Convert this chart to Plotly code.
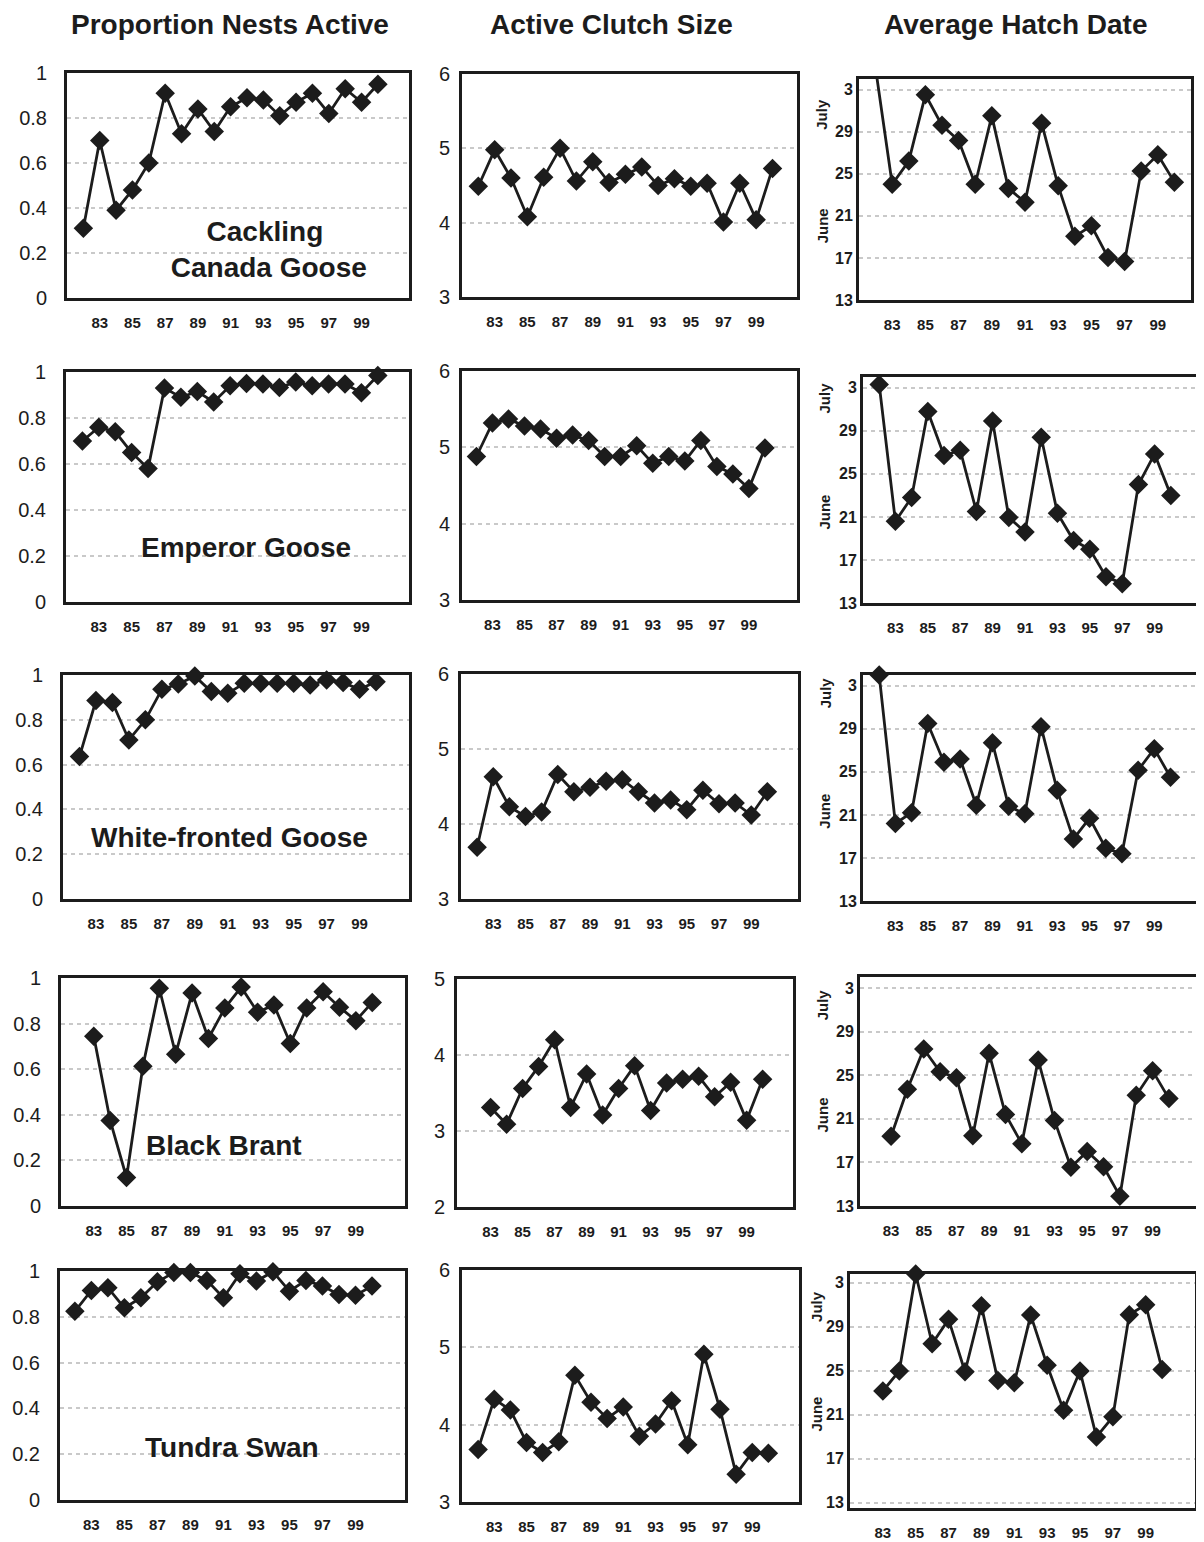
import plotly.graph_objects as go

PAGE_W, PAGE_H = 1204, 1542
BODY = 8  # default page margin around the plot div
W, H = PAGE_W - BODY, PAGE_H - BODY


def fx(px):
    return min(max((px - BODY) / W, 0), 1)


def fy(py):
    return min(max(1 - (py - BODY) / H, 0), 1)


years = list(range(1982, 2001))
tick_years = [1983, 1985, 1987, 1989, 1991, 1993, 1995, 1997, 1999]
tick_text = ["83", "85", "87", "89", "91", "93", "95", "97", "99"]

species = ["Cackling<br> Canada Goose", "Emperor Goose", "White-fronted Goose", "Black Brant", "Tundra Swan"]
headers = ["Proportion Nests Active", "Active Clutch Size", "Average Hatch Date"]

# Proportion of nests active, 1982-2000
prop_cackling = [0.31, 0.70, 0.39, 0.48, 0.60, 0.91, 0.73, 0.84, 0.74, 0.85, 0.89, 0.88, 0.81, 0.87, 0.91, 0.82, 0.93, 0.87, 0.95]
prop_emperor = [0.70, 0.76, 0.74, 0.65, 0.58, 0.93, 0.89, 0.915, 0.87, 0.94, 0.95, 0.948, 0.933, 0.956, 0.94, 0.948, 0.948, 0.91, 0.985]
prop_whitefront = [0.636, 0.886, 0.877, 0.71, 0.80, 0.936, 0.96, 0.995, 0.926, 0.918, 0.963, 0.963, 0.963, 0.963, 0.955, 0.978, 0.966, 0.936, 0.97]
prop_brant = [None, 0.745, 0.375, 0.125, 0.613, 0.955, 0.666, 0.934, 0.735, 0.868, 0.96, 0.85, 0.882, 0.713, 0.868, 0.94, 0.872, 0.813, 0.893]
prop_swan = [0.824, 0.915, 0.927, 0.839, 0.883, 0.953, 0.993, 0.993, 0.959, 0.883, 0.988, 0.956, 0.997, 0.912, 0.959, 0.934, 0.897, 0.894, 0.934]

# Active clutch size
clutch_cackling = [4.49, 4.98, 4.60, 4.08, 4.61, 5.0, 4.56, 4.82, 4.54, 4.65, 4.75, 4.50, 4.59, 4.49, 4.53, 4.01, 4.53, 4.04, 4.73]
clutch_emperor = [4.88, 5.32, 5.37, 5.28, 5.24, 5.12, 5.16, 5.09, 4.88, 4.88, 5.02, 4.79, 4.88, 4.82, 5.09, 4.75, 4.65, 4.46, 4.99]
clutch_whitefront = [3.69, 4.63, 4.23, 4.10, 4.16, 4.66, 4.43, 4.49, 4.57, 4.59, 4.43, 4.28, 4.32, 4.19, 4.45, 4.27, 4.28, 4.12, 4.43]
clutch_brant = [None, 3.31, 3.09, 3.56, 3.85, 4.20, 3.31, 3.75, 3.21, 3.56, 3.86, 3.27, 3.63, 3.68, 3.72, 3.45, 3.64, 3.14, 3.68]
clutch_swan = [3.68, 4.33, 4.19, 3.77, 3.64, 3.78, 4.64, 4.29, 4.08, 4.23, 3.85, 4.01, 4.31, 3.74, 4.91, 4.20, 3.36, 3.64, 3.63]

# Average hatch date (day of June; 33 = 3 July)
hatch_cackling = [35.0, 24.0, 26.2, 32.5, 29.6, 28.15, 24.0, 30.5, 23.6, 22.3, 29.8, 23.85, 19.05, 20.05, 17.05, 16.65, 25.25, 26.8, 24.2]
hatch_emperor = [33.3, 20.6, 22.8, 30.8, 26.7, 27.2, 21.5, 29.9, 20.95, 19.6, 28.4, 21.35, 18.8, 18.0, 15.45, 14.8, 24.0, 26.85, 23.0]
hatch_whitefront = [34.0, 20.2, 21.2, 29.5, 25.9, 26.2, 21.9, 27.7, 21.8, 21.1, 29.2, 23.3, 18.75, 20.7, 17.9, 17.4, 25.15, 27.15, 24.5]
hatch_brant = [None, 19.4, 23.7, 27.4, 25.3, 24.75, 19.45, 27.0, 21.4, 18.7, 26.4, 20.85, 16.55, 18.0, 16.6, 13.9, 23.15, 25.4, 22.85]
hatch_swan = [None, 23.15, 24.97, 33.8, 27.45, 29.67, 24.9, 30.9, 24.1, 23.9, 30.06, 25.5, 21.4, 24.97, 18.97, 20.8, 30.1, 31.0, 25.1]

hatch_tickvals = [13, 17, 21, 25, 29, 33]
hatch_ticktext = ["13", "17", "21", "25", "29", "3"]

prop_series = [prop_cackling, prop_emperor, prop_whitefront, prop_brant, prop_swan]
clutch_series = [clutch_cackling, clutch_emperor, clutch_whitefront, clutch_brant, clutch_swan]
hatch_series = [hatch_cackling, hatch_emperor, hatch_whitefront, hatch_brant, hatch_swan]

# layout geometry in page pixels: per row, per column -> (x0, x1, y_top, y_bottom, xrange)
geom = [
    [(67, 409, 73, 298, [1981, 2001.9]), (462, 797, 74, 297, [1981, 2001.5]), (859, 1191, 79, 300, [1981, 2001])],
    [(66, 409, 372, 602, [1981, 2001.9]), (462, 797, 371, 600, [1981.1, 2002]), (863, 1200, 377, 603, [1981, 2001.8])],
    [(63, 409, 675, 899, [1981, 2002]), (461, 798, 674, 899, [1981, 2001.9]), (863, 1198, 675, 901, [1981, 2001.7])],
    [(61, 405, 978, 1206, [1981, 2002]), (457, 793, 979, 1207, [1980.9, 2001.9]), (860, 1200, 977, 1206, [1981.1, 2001.9])],
    [(60, 405, 1271, 1500, [1981.1, 2002]), (462, 799, 1270, 1502, [1981, 2001.9]), (850, 1195, 1274, 1508, [1981, 2002])],
]
clutch_ranges = [[3, 6], [3, 6], [3, 6], [2, 5], [3, 6]]
hatch_ranges = [[13, 34], [13, 34], [13, 34], [13, 34], [12.5, 33.8]]
species_pos = [(265, 249), (246, 547), (230, 837), (224, 1145), (232, 1447)]
july_june = [(822, 30.6, 20.0), (825, 32.0, 21.4), (825, 32.3, 21.3), (822, 31.4, 21.3), (817, 30.8, 21.0)]

INK = "#1c1c1c"
GRID = "#c9c9c9"
FONT = "Liberation Sans, Arial, sans-serif"

fig = go.Figure()
layout = {}
annotations = []

for r in range(5):
    for c in range(3):
        idx = r * 3 + c + 1
        x0, x1, yt, yb, xr = geom[r][c]
        xname = "xaxis" if idx == 1 else f"xaxis{idx}"
        yname = "yaxis" if idx == 1 else f"yaxis{idx}"
        xref = "x" if idx == 1 else f"x{idx}"
        yref = "y" if idx == 1 else f"y{idx}"

        if c == 0:
            ys = prop_series[r]
            yr = [0, 1]
            ytv = [0, 0.2, 0.4, 0.6, 0.8, 1]
            ytt = ["0", "0.2", "0.4", "0.6", "0.8", "1"]
            yfont = dict(family=FONT, size=20, color=INK)
            ticklen = 13
        elif c == 1:
            ys = clutch_series[r]
            yr = clutch_ranges[r]
            ytv = list(range(yr[0], yr[1] + 1))
            ytt = [str(v) for v in ytv]
            yfont = dict(family=FONT, size=20, color=INK)
            ticklen = 5
        else:
            ys = hatch_series[r]
            yr = hatch_ranges[r]
            ytv = hatch_tickvals
            ytt = hatch_ticktext
            yfont = dict(family=FONT, size=16, color=INK, weight="bold")
            ticklen = 0

        fig.add_trace(go.Scatter(
            x=years, y=ys, mode="lines+markers",
            line=dict(color=INK, width=2.8),
            marker=dict(symbol="diamond", size=15, color=INK),
            xaxis=xref, yaxis=yref, showlegend=False,
            cliponaxis=(c == 2 and r == 0),
        ))

        layout[xname] = dict(
            domain=[fx(x0), fx(x1)], anchor=yref, range=xr, automargin=False,
            tickmode="array", tickvals=tick_years, ticktext=tick_text,
            tickfont=dict(family=FONT, size=15, color=INK, weight="bold"),
            ticks="outside", ticklen=9, tickcolor="rgba(0,0,0,0)",
            showgrid=False, zeroline=False,
            showline=True, linecolor=INK, linewidth=3, mirror=True,
        )
        layout[yname] = dict(
            domain=[fy(yb), fy(yt)], anchor=xref, range=yr, automargin=False,
            tickmode="array", tickvals=ytv, ticktext=ytt, tickfont=yfont,
            ticks="outside" if ticklen else "", ticklen=max(ticklen, 1), tickcolor="rgba(0,0,0,0)",
            showgrid=True, gridcolor=GRID, gridwidth=1.5, griddash="4px,4px",
            zeroline=False,
            showline=True, linecolor=INK, linewidth=3, mirror=True,
        )

        if c == 2:
            jx, jy, uy = july_june[r]
            for txt, yv in (("July", jy), ("June", uy)):
                annotations.append(dict(
                    x=fx(jx), xref="paper", y=yv, yref=yref, text=txt, textangle=-90,
                    showarrow=False, xanchor="center", yanchor="middle",
                    font=dict(family=FONT, size=15, color=INK, weight="bold"),
                ))

    sx, sy = species_pos[r]
    annotations.append(dict(
        x=fx(sx), y=fy(sy), xref="paper", yref="paper", text=species[r],
        showarrow=False, xanchor="center", yanchor="middle",
        font=dict(family=FONT, size=28, color=INK, weight="bold"),
    ))

for txt, hx in zip(headers, [230, 611, 1016]):
    annotations.append(dict(
        x=fx(hx), y=1.0, xref="paper", yref="paper", text=txt,
        showarrow=False, xanchor="center", yanchor="top", borderpad=0,
        font=dict(family=FONT, size=28, color=INK, weight="bold"),
    ))

fig.update_layout(
    width=W, height=H,
    margin=dict(l=0, r=0, t=0, b=0, autoexpand=False),
    paper_bgcolor="white", plot_bgcolor="white",
    annotations=annotations,
    **layout,
)

fig.write_html("out.html")
